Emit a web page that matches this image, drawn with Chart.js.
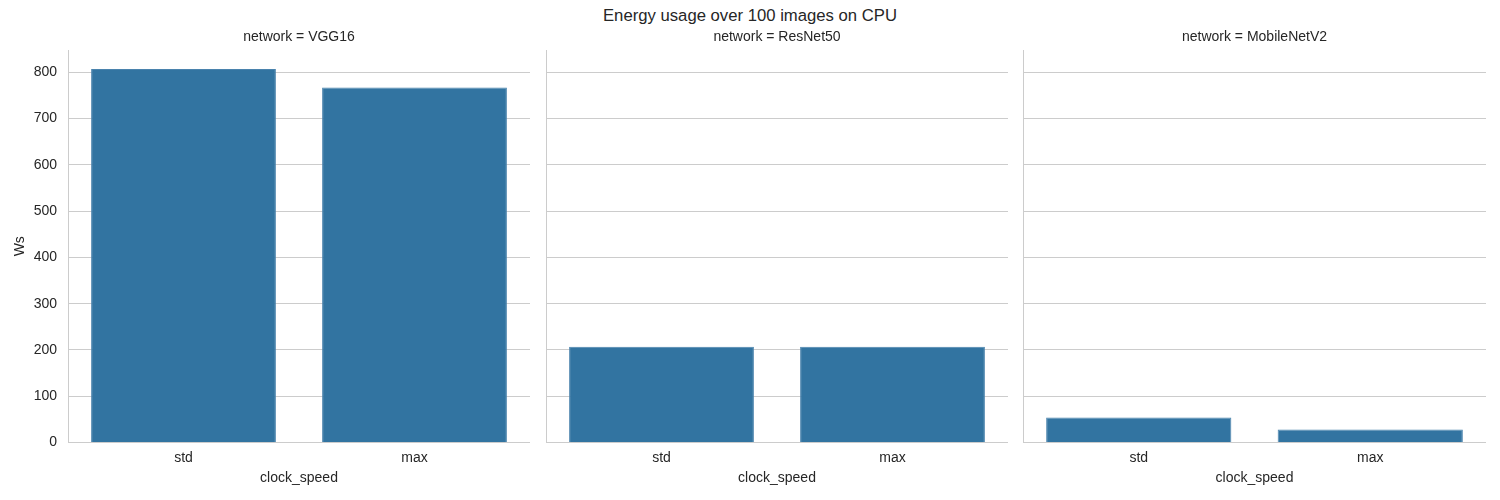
<!DOCTYPE html>
<html>
<head>
<meta charset="utf-8">
<title>Energy usage over 100 images on CPU</title>
<script src="https://cdn.jsdelivr.net/npm/chart.js@4"></script>
<style>
  body { margin: 0; background: #fff; }
  #wrap { position: relative; width: 1500px; height: 500px; overflow: hidden; }
  #wrap canvas { position: absolute; top: 0; }
  #suptitle {
    position: absolute; left: 0; top: 6px; width: 1500px; text-align: center;
    font-family: "Liberation Sans", Arial, sans-serif; font-size: 16.7px; color: #262626;
  }
</style>
</head>
<body>
<div id="wrap">
  <div id="suptitle">Energy usage over 100 images on CPU</div>
  <canvas id="panel0" width="530" height="500" style="left:0px"></canvas>
  <canvas id="panel1" width="471" height="500" style="left:537px"></canvas>
  <canvas id="panel2" width="472" height="500" style="left:1014px"></canvas>
</div>
<script>
const clockSpeeds = ['std', 'max']
const networks = ['VGG16', 'ResNet50', 'MobileNetV2']
const vgg16Ws = [807, 767]
const resnet50Ws = [207, 207]
const mobilenetV2Ws = [54, 28]
const yTicks = [0, 100, 200, 300, 400, 500, 600, 700, 800]
const yMax = 848

const seriesList = [vgg16Ws, resnet50Ws, mobilenetV2Ws]
const textColor = '#262626'
const gridColor = '#cccccc'
const fontFamily = '"Liberation Sans", Arial, sans-serif'

// panel title centred over the plot area, not the whole canvas
const panelTitle = {
  id: 'panelTitle',
  afterDraw: (chart, args, opts) => {
    const { ctx, chartArea } = chart
    ctx.save()
    ctx.font = `14px ${fontFamily}`
    ctx.fillStyle = textColor
    ctx.textAlign = 'center'
    ctx.textBaseline = 'middle'
    ctx.fillText(opts.text, (chartArea.left + chartArea.right) / 2, 37)
    ctx.restore()
  }
}

const makePanel = (idx) => {
  const first = idx === 0
  const config = {
    type: 'bar',
    data: {
      labels: clockSpeeds,
      datasets: [{
        data: seriesList[idx],
        backgroundColor: '#3274a1',
        borderColor: '#4a83ad',
        borderWidth: 1,
        categoryPercentage: 0.8,
        barPercentage: 1,
      }]
    },
    options: {
      responsive: false,
      animation: false,
      layout: { padding: { top: 50, left: 0, right: 0, bottom: 0 } },
      plugins: {
        legend: { display: false },
        tooltip: { enabled: false },
        title: { display: false },
        panelTitle: { text: `network = ${networks[idx]}` },
      },
      scales: {
        x: {
          grid: { display: false, drawTicks: false },
          border: { color: gridColor, width: 1 },
          ticks: { color: textColor, padding: 7, font: { family: fontFamily, size: 14 } },
          title: {
            display: true,
            text: 'clock_speed',
            color: textColor,
            font: { family: fontFamily, size: 14, lineHeight: 1.2 },
            padding: { top: 0, bottom: 13.8 },
          },
          afterFit: (scale) => { scale.height = 57.5 },
        },
        y: {
          min: 0,
          max: yMax,
          grid: { color: gridColor, lineWidth: 1, drawTicks: false },
          border: { color: gridColor, width: 1 },
          ticks: {
            display: first,
            color: textColor,
            padding: 11,
            font: { family: fontFamily, size: 14 },
          },
          title: {
            display: first,
            text: 'Ws',
            color: textColor,
            font: { family: fontFamily, size: 14, lineHeight: 1.2 },
            padding: { top: 11.6, bottom: 0 },
          },
          afterBuildTicks: (scale) => {
            scale.ticks = yTicks.map(v => ({ value: v }))
          },
          afterFit: (scale) => { scale.width = first ? 68 : 9 },
        },
      },
    },
    plugins: [panelTitle],
  }
  new Chart(document.getElementById(`panel${idx}`), config)
}

networks.forEach((n, i) => makePanel(i))
</script>
</body>
</html>
